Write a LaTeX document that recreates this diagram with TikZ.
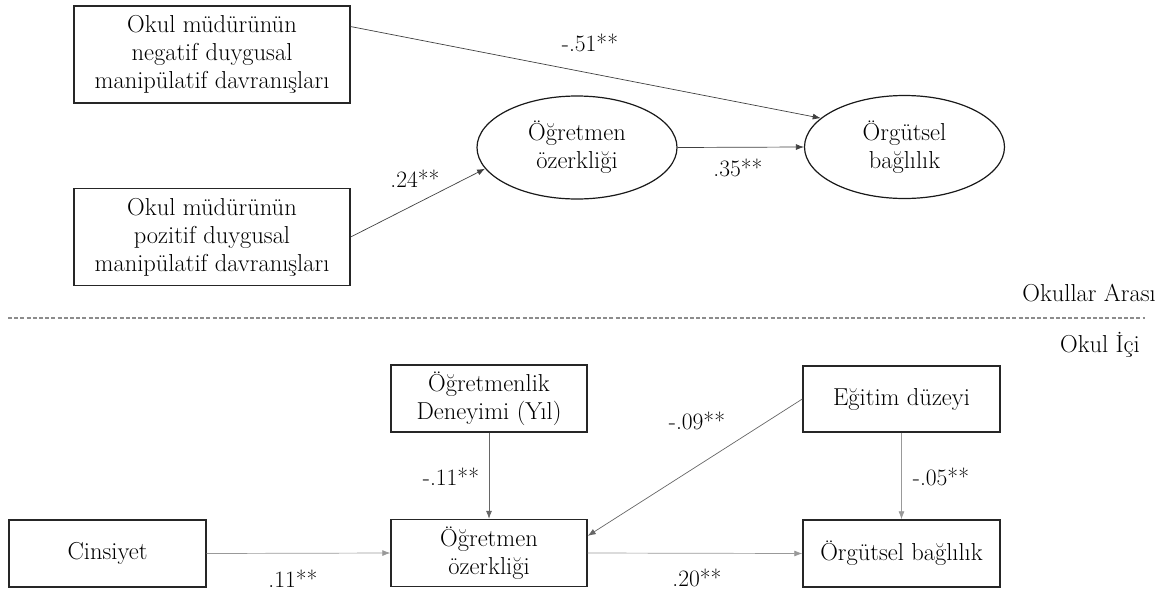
\documentclass[tikz,border=0pt]{standalone}
\usepackage{fontspec}
\usetikzlibrary{shapes.geometric,arrows.meta,calc}
\begin{document}
\begin{tikzpicture}[x=1pt,y=-1pt,
  every node/.style={font=\fontsize{24.5}{28}\selectfont, text=black},
  box/.style={draw=black!85, line width=1.4pt, rectangle, align=center, inner sep=0pt},
  bigbox/.style={box, minimum width=276pt, minimum height=97pt},
  smallbox/.style={box, minimum width=196pt, minimum height=67pt},
  oval/.style={draw=black!90, line width=1.2pt, ellipse, align=center, inner sep=0pt,
    minimum width=200pt, minimum height=103pt},
  link/.style={-{Latex[length=8pt,width=6pt]}, line width=0.7pt, draw=black!75},
  glink/.style={link, draw=black!40},
  mlink/.style={link, draw=black!60},
  lbl/.style={font=\fontsize{23.5}{27}\selectfont, inner sep=0pt}
]
\useasboundingbox (0,0) rectangle (1164,592);

% top level (between schools)
\node[bigbox] (b1) at (212,54.5) {Okul müdürünün\\negatif duygusal\\manipülatif davranışları};
\node[bigbox] (b2) at (212,237) {Okul müdürünün\\pozitif duygusal\\manipülatif davranışları};
\node[oval] (e1) at (577,147.5) {Öğretmen\\özerkliği};
\node[oval] (e2) at (904.5,147) {Örgütsel\\bağlılık};

\draw[link] ($(b1.north east)!0.216!(b1.south east)$) -- (e2.161);
\draw[link] (e1.east) -- (e2.west);
\draw[link] (b2.east) -- (e1.193);

\node[lbl] (l51) at (590,43) {-.51**};
\node[lbl] (l35) at (738,168) {.35**};
\node[lbl] (l24) at (415,179) {.24**};

% separator
\coordinate (dl) at (8,318);
\coordinate (dr) at (1145,318);
\draw[draw=black!45, line width=1.4pt, dash pattern=on 4pt off 2.2pt] (dl) -- (dr);
\node[anchor=east, inner sep=0pt] (ara) at (1156,293) {Okullar Arası};
\node[anchor=east, inner sep=0pt] (ici) at (1140,345) {Okul İçi};

% within school
\node[smallbox] (den) at (489,398.5) {Öğretmenlik\\Deneyimi (Yıl)};
\node[smallbox] (oo) at (489,553) {Öğretmen\\özerkliği};
\node[smallbox, minimum width=197pt] (cin) at (107.5,553.5) {Cinsiyet};
\node[smallbox, minimum width=197pt, minimum height=66pt] (egi) at (901.5,399) {Eğitim düzeyi};
\node[smallbox, minimum width=197pt] (ob) at (901.5,553.5) {Örgütsel bağlılık};

\draw[mlink] (den.south) -- (oo.north);
\draw[glink] (cin.east) -- (oo.west);
\draw[glink] (oo.east) -- (ob.west);
\draw[mlink] (egi.west) -- ($(oo.north east)!0.25!(oo.south east)$);
\draw[glink] (egi.south) -- (ob.north);

\node[lbl] (l11a) at (451,477) {-.11**};
\node[lbl] (l11b) at (293,579) {.11**};
\node[lbl] (l20) at (697,578) {.20**};
\node[lbl] (l09) at (697,421) {-.09**};
\node[lbl] (l05) at (941,477) {-.05**};
\end{tikzpicture}
\end{document}
